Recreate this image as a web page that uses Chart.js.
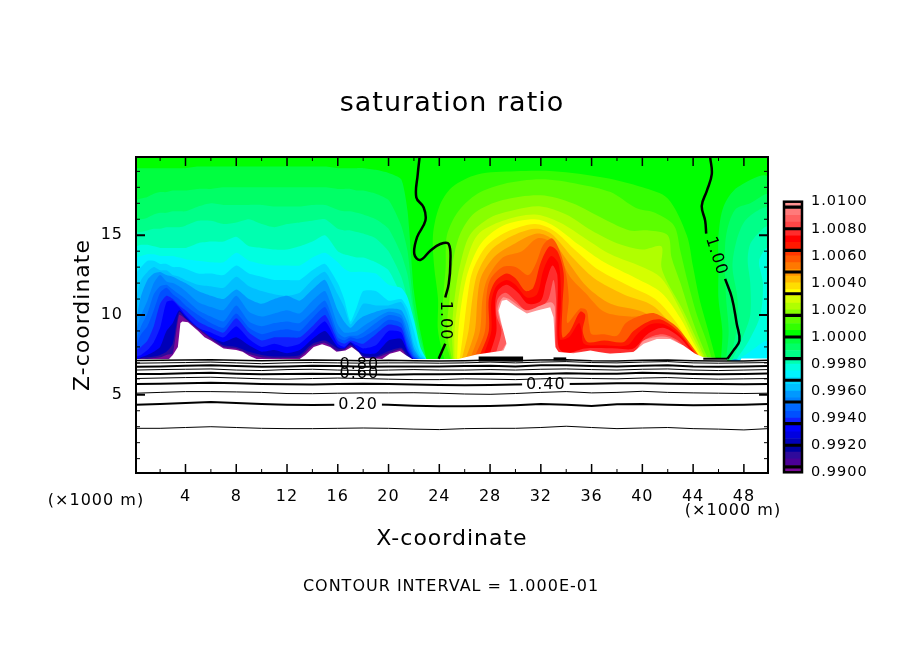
<!DOCTYPE html>
<html>
<head>
<meta charset="utf-8">
<title>saturation ratio</title>
<script src="https://cdn.jsdelivr.net/npm/chart.js@4"></script>
<style>
  html, body { margin: 0; background: #fff; }
  #wrap { position: relative; width: 904px; height: 654px; overflow: hidden; }
  #field { position: absolute; left: 0; top: 0; }
  #bar { position: absolute; left: 770px; top: 192px; }
</style>
</head>
<body>
<div id="wrap">
  <canvas id="field" width="904" height="654"></canvas>
  <canvas id="bar" width="134" height="290"></canvas>
</div>
<script>
// colour scale, one colour for each 0.0005 band from 0.9900 upward
const bandStart = 0.99;
const bandStep = 0.0005;
const bandColors = ['#7a0a96', '#4b0096', '#2f0a9b', '#0000a0', '#0000b8', '#0000e0', '#0000ff', '#1020ff', '#0050ff', '#0068ff',
  '#0080ff', '#0098ff', '#00c0ff', '#00d8ff', '#00f4ff', '#00ffe0', '#00ffb0', '#00ff88', '#00ff66', '#00ff40',
  '#00ff00', '#33ff00', '#5cff00', '#88ff00', '#b0ff00', '#d4ff00', '#ffff00', '#ffdd00', '#ffb800', '#ff9400',
  '#ff7800', '#ff5800', '#ff3800', '#ff1800', '#ff0000', '#ff2c2c', '#ff4646', '#ff6060', '#ff7a7a', '#ff9494'];
const barSeparators = [0.9904, 0.992, 0.9936, 0.9952, 0.9968, 0.9984, 1.0, 1.0016, 1.0032, 1.0048, 1.0064, 1.008, 1.0096];
const barTicks = [0.99, 0.992, 0.994, 0.996, 0.998, 1.0, 1.002, 1.004, 1.006, 1.008, 1.01];

const xTicks = [4, 8, 12, 16, 20, 24, 28, 32, 36, 40, 44, 48];
const xMinor = [2, 6, 10, 14, 18, 22, 26, 30, 34, 38, 42, 46];
const zTicks = [5, 10, 15];
const zMinor = [1, 2, 3, 4, 6, 7, 8, 9, 11, 12, 13, 14, 16, 17, 18, 19];

// dry side, left half: top edge of each band (km) at the coldX positions
const coldX = [0.1, 0.5, 1, 1.5, 2, 2.5, 3, 3.5, 4, 5, 6, 7, 8, 9, 10, 11, 12, 13, 14, 15, 16, 16.5, 17, 17.5, 18, 19, 20, 21, 21.5, 22, 22.5, 23];
const c9995 = [19.2,19.2,19.2,19.2,19.2,19.2,19.2,19.2,19.2,19.3,19.3,19.3,19.3,19.3,19.3,19.3,19.3,19.3,19.3,19.3,19.2,19.2,19.2,19.2,19.2,19.1,18.9,18.5,16.5,11.5,9,7.2];
const c9990 = [17.2,17.3,17.4,17.6,17.7,17.7,17.8,17.8,17.8,17.9,17.9,18,18,18,18,18,18,18,18,18,17.9,17.9,17.9,17.8,17.8,17.6,17.2,15.6,14,10.5,8.5,7.2];
const c9985 = [16,16,16.1,16.3,16.4,16.4,16.5,16.5,16.5,16.8,17,16.9,16.9,16.9,16.9,16.8,16.8,16.8,16.9,16.9,16.6,16.5,16.5,16.4,16.3,16,15.4,13.8,12.5,10,8,7.2];
const c9980 = [15.2,15.2,15.3,15.4,15.4,15.5,15.5,15.5,15.6,15.9,15.9,15.7,15.8,16,15.7,15.5,15.7,15.8,15.9,16,15.4,15.3,15.3,15.2,15.1,14.8,14,12.4,11,9.2,7.9,7.2];
const c9975 = [14.3,14.4,14.4,14.3,14.2,14.2,14.2,14.2,14.2,14.5,14.6,14.6,14.9,14.3,14.2,14.1,14.1,14.3,14.6,15,14,13.8,13.7,13.6,13.6,13.3,12.8,11.2,10,8.6,7.6,7.2];
const c9970 = [13.6,13.7,13.8,13.8,13.7,13.7,13.7,13.6,13.5,13.4,13.3,13.3,13.9,13.4,13.2,13.1,13.1,13.1,13.6,13.9,13.3,12.9,12.7,12.7,12.7,12.6,11.9,11.7,11.1,9.7,8,7.2];
const c9965 = [12.6,13,13.4,13.4,13.2,13.2,13,13,12.9,12.6,12.6,12.5,13.1,12.6,12.4,12.2,12.2,12.2,12.8,13.2,12,11,9.6,10.5,11.5,11.5,10.9,11,10.4,9,7.6,7.2];
const c9960 = [11.1,12.2,12.7,13,12.8,12.8,12.5,12.4,12.2,11.9,11.8,11.7,12.4,11.8,11.5,11.3,11.2,11.4,12.2,12.7,11.3,10.5,9.4,10,10.7,10.6,10.6,10.8,10,8.2,7.4,7.2];
const c9955 = [9.65,11.2,12.2,12.6,12.7,12.5,12.4,12.2,12,11.5,11.2,11,11.6,11,10.7,11,11.2,10.9,11.6,12.2,10.3,9.6,9.2,9.6,9.9,10.2,10.4,10.3,9.5,7.9,7.3,7.2];
const c9950 = [9,10,10.9,12,12.5,12.1,12,11.8,11.5,10.8,10.5,10.3,11.2,10.2,9.9,10.1,10.3,10.1,10.9,11.5,9.4,8.9,8.9,9,9.3,9.8,10.2,10,9,7.7,7.2,7.2];
const c9945 = [8.4,9.3,10.1,11.3,11.8,11.9,11.6,11.3,11,10.3,9.9,9.6,10.6,9.6,9.3,9.5,9.6,9.5,10.2,10.9,8.9,8.6,8.7,8.7,8.9,9.5,10,9.8,8.6,7.5,7.2,7.2];
const c9940 = [8.1,8.8,9.3,10.3,11.4,11.7,11.3,11,10.6,10,9.5,9.2,10.1,9.2,8.8,9,9.1,9,9.8,10.5,8.6,8.4,8.6,8.5,8.6,9.1,9.7,9.5,8.3,7.4,7.2,7.2];
const c9935 = [7.8,8,8.4,9.3,10.7,11.2,11,10.6,10.3,9.6,9.2,8.9,9.8,8.9,8.4,8.6,8.6,8.6,9.3,10,8.4,8.2,8.4,8.3,8.2,8.8,9.4,9.2,8,7.3,7.2,7.2];
const c9930 = [7.4,7.5,7.8,8.3,9.2,10.8,10.9,10.5,10,9.2,8.9,8.6,9.3,8.5,8,8.2,8,8.2,8.9,9.6,8.2,8,8.3,8.1,7.9,8.1,9,8.9,7.8,7.2,7.2,7.2];
const c9920 = [7.2,7.35,7.5,7.7,8,9,9.5,10.3,9.9,9.1,8.6,8.3,8.6,8.1,7.7,7.8,7.6,7.8,8.5,9,8,7.9,8.3,7.9,7.6,7.6,8.4,8.5,7.7,7.2,7.2,7.2];
const c9910 = [7.2,7.3,7.35,7.4,7.5,7.7,8.2,10.2,9.8,9.2,8.6,8.1,8,7.7,7.5,7.4,7.4,7.5,8.2,8.4,7.9,7.9,8.15,7.85,7.45,7.4,7.75,7.95,7.5,7.2,7.2,7.2];
const c9900 = [7.2,7.25,7.25,7.3,7.35,7.5,7.6,10,9.75,9.1,8.5,8,7.9,7.55,7.35,7.3,7.3,7.35,8.05,8.25,7.75,7.8,8.05,7.75,7.35,7.3,7.6,7.85,7.35,7.2,7.2,7.2];

// dry side, right edge: closed outlines [x, z]
const r9995 = [[46.2,7.2],[46.3,9],[46,11],[46,13],[46,15],[46.4,16.8],[47.5,18],[49.9,18.6],[49.9,7.2]];
const r9990 = [[46.6,7.2],[46.8,9],[46.6,11],[46.5,13],[46.6,15],[47.3,16.6],[48.5,17],[49.9,17.5],[49.9,7.2]];
const r9985 = [[46.9,7.2],[47.4,9],[47.5,11],[47.1,13],[47.4,14.6],[48,15.8],[49,16.5],[49.9,16.7],[49.9,7.2]];
const r9980 = [[47.1,7.2],[47.9,8.6],[48.5,10],[48.5,12],[48.3,13.5],[48.6,14.6],[49.9,15.5],[49.9,7.2]];
const r9975 = [[47.4,7.2],[48.4,8.4],[49.3,10],[49.5,12],[49.2,13.4],[49.9,14.2],[49.9,7.2]];
const r9970 = [[47.3,7.1],[48.3,7.6],[49.9,8.4],[49.9,7.1]];
const r9950 = [[46.8,7.1],[47.3,7.22],[47.9,7.1]];

// moist dome: closed outlines [x, z] for each band
const w10005 = [[24.4,7.2],[23.9,9],[23.9,11],[23.6,13],[23.5,15],[24,16.8],[25,18],[27,18.8],[30,19],[33,19],[37,18.6],[40,18],[42,17.3],[43.5,15],[44,13],[44.5,11],[45.2,9],[45.8,7.2]];
const w10010 = [[24.9,7.2],[24.3,9],[24.3,11],[24.5,13],[24.6,15],[25.5,16.5],[27,17.6],[29,18.2],[32,18.5],[35,18.2],[37.5,17.7],[39.5,16.7],[41,16.4],[42.5,15.6],[43,14],[43.6,12],[44.3,10],[45,8.5],[45.5,7.2]];
const w10015 = [[25,7.2],[24.6,9],[24.8,11],[25,13],[25.6,15],[26.8,16.4],[29,17.2],[32,17.5],[34.5,17],[37,16],[39,15.3],[40.5,15.3],[42,15],[42.3,13.6],[43,12],[43.8,10],[44.5,8.5],[45.2,7.2]];
const w10020 = [[25.1,7.2],[25,9],[25.2,11],[25.6,13],[26.4,15],[28,16.1],[30,16.6],[32,16.8],[34,16.3],[36,15.3],[38,14.5],[40,14.1],[41.5,14.3],[41.5,13],[42,12],[43.2,10.3],[44.2,8.6],[45,7.2]];
const w10025 = [[25.2,7.2],[25.2,9],[25.5,11],[26,13],[27,15],[29,15.9],[31.5,16.3],[33.5,15.8],[35.5,14.8],[37.5,13.8],[40,13],[41.5,12.3],[43,10.3],[44,8.6],[44.9,7.2]];
const w10030 = [[25.4,7.2],[25.5,9],[25.8,11],[26.3,12.8],[27.3,14.5],[29,15.6],[31.5,16],[33,15.6],[35,14.4],[37,13.3],[39.5,12.3],[41.5,11.4],[43,9.8],[44,8.3],[44.8,7.2]];
const w10035 = [[25.6,7.2],[25.9,9],[26.2,11],[26.6,12.7],[27.7,14.3],[29.3,15.2],[31.5,15.7],[33,15.3],[34.8,14],[36.6,12.8],[39,11.8],[41,11],[42.7,9.5],[43.8,8],[44.6,7.2]];
const w10040 = [[25.8,7.3],[26.3,9],[26.6,11],[27,12.6],[28,14],[29.6,14.9],[31.5,15.4],[32.8,15.1],[34.5,13.6],[36.2,12.3],[38.5,11.3],[40.8,10.6],[42.5,9.2],[43.7,7.9],[44.5,7.2]];
const w10045 = [[26.1,7.3],[26.8,9],[27,11],[27.3,12.4],[28.4,13.7],[30,14.5],[31.7,15.1],[32.8,14.8],[34,13.5],[35.6,11.8],[37.5,10.7],[40,10.2],[42,9.2],[43.4,7.9],[44.3,7.2]];
const w10050 = [[26.5,7.4],[27.2,9],[27.4,11],[27.8,12.3],[29,13.6],[30.5,14],[31.7,14.8],[32.7,14.6],[33.6,13.5],[34.3,12.4],[35.5,11.4],[37,10.2],[39,9.9],[41,9.9],[43,8.2],[44,7.2]];
const w10055 = [[26.8,7.4],[27.6,9],[27.7,11],[28,12.2],[29,13],[30,13],[31,12.5],[31.6,13.2],[32.2,14.4],[32.9,14.8],[33.5,14],[34,12.5],[34.2,11],[34.1,9.5],[35.1,10.4],[35.6,10.3],[35.8,9.4],[36,8.8],[37,8.8],[38,8.7],[38.7,9.5],[40,10],[41,10.1],[42.5,9.4],[43.5,8.5],[44.5,7.4]];
const w10065 = [[27.2,7.5],[27.9,9],[27.9,11],[28.4,12.1],[29.3,12.6],[30,12.3],[30.8,11.5],[31.4,11.7],[32,13.3],[32.7,14.3],[33.3,14],[33.8,12.6],[33.7,10.5],[33.7,8.6],[34.3,9],[35.1,10.2],[35.5,10],[35.3,9],[35.7,8.3],[37,8.4],[38.5,8.3],[39.3,9],[40.5,9.6],[41.5,9.7],[42.8,9],[43.9,7.9],[44.4,7.3]];
const w10070 = [[27.5,7.5],[28.1,9],[28.1,10.8],[28.5,11.8],[29.3,12.2],[30,11.9],[30.9,11.1],[31.7,11.3],[32.2,12.8],[32.8,13.7],[33.4,13.2],[33.6,11],[33.5,8.5],[34.2,8.6],[35,9.5],[35.2,9.1],[35.4,8.2],[37,8.1],[38.8,8.1],[39.6,8.8],[40.6,9.4],[41.6,9.45],[42.8,8.85],[43.9,7.8],[44.3,7.3]];
const w10075 = [[28,7.6],[28.5,9],[28.4,10.6],[28.6,11.5],[29.3,11.9],[30.2,11.4],[31,10.7],[32,10.9],[32.4,12],[32.9,13.1],[33.3,12.5],[33.3,10],[33.4,8],[34,7.6],[35.5,7.9],[38,7.9],[39.3,7.9],[40.4,8.8],[41.6,9.2],[42.8,8.7],[43.8,7.8],[44.2,7.3]];
const w10085 = [[28.5,7.7],[28.9,9],[28.5,10],[28.6,11],[29.2,11.4],[30,10.9],[31,10.2],[32,10.5],[32.6,11],[33,12.2],[33.2,11],[33.2,8],[33.6,7.6],[35,7.7],[38,7.6],[39.4,7.7],[40.3,8.5],[41.6,8.8],[42.8,8.4],[43.8,7.6],[44.3,7.3]];
const w10095 = [[28.9,7.7],[29.3,8.4],[28.8,9.6],[28.6,10.4],[29,11.1],[29.5,11],[30.2,10.6],[30.9,10.3],[32,10.6],[32.8,10.8],[33.1,10.5],[33.15,8],[33.5,7.6],[39.3,7.7],[40.1,8.4],[41.6,8.65],[42.5,8.45],[43.5,7.8],[44.2,7.4]];

// everything outside the 0.99 - 1.01 range stays white
const blankArea = [[0.1,7.25],[2.7,7.25],[3,7.5],[3.4,8],[3.6,9.5],[3.75,9.6],[4.2,9.55],[5,9],[5.5,8.6],[6,8.4],[7,7.9],[8,7.8],[8.5,7.7],[9,7.45],[9.6,7.25],[13,7.25],[13.45,7.5],[14.1,8],[14.76,8.16],[15.4,8],[15.9,7.7],[16.6,7.78],[17.1,8],[17.65,7.67],[18,7.3],[19.5,7.25],[20.1,7.57],[20.9,7.74],[21.4,7.47],[21.85,7.25],[25.5,7.25],[26.96,7.53],[29.06,7.78],[29.3,8.2],[28.9,9.45],[28.67,10.28],[28.93,10.9],[29.3,10.95],[30.1,10.49],[30.9,10.1],[31.7,10.28],[32.74,10.49],[33,9.86],[33.13,8],[33.4,7.68],[34.57,7.6],[35.9,7.78],[36.67,7.67],[37.46,7.57],[39.3,7.68],[40.1,8.2],[41.14,8.5],[42.2,8.5],[43.24,8.09],[44.16,7.57],[44.8,7.36],[46.6,7.28],[46.7,7.12],[47.7,7.12],[47.8,7.28],[49.9,7.28],[49.9,0.1],[0.1,0.1]];

// black contour lines, height (km) at the lineX positions
const lineX = [0.1, 2, 4, 6, 8, 10, 12, 14, 16, 18, 20, 22, 24, 26, 28, 30, 32, 34, 36, 38, 40, 42, 44, 46, 48, 49.9];
const line010 = [2.9,2.9,2.95,3,2.95,2.9,2.88,2.88,2.9,2.92,2.9,2.85,2.82,2.88,2.9,2.9,2.95,3.03,2.95,2.88,2.92,2.95,2.88,2.85,2.8,2.88];
const line020 = [4.38,4.42,4.48,4.55,4.48,4.42,4.38,4.36,4.38,4.4,4.38,4.32,4.28,4.28,4.3,4.35,4.42,4.38,4.3,4.4,4.42,4.38,4.35,4.36,4.38,4.42];
const line030 = [5.1,5.15,5.2,5.2,5.18,5.15,5.08,5.07,5.1,5.12,5.12,5.13,5.1,5.05,5.03,5.08,5.15,5.2,5.12,5.15,5.22,5.15,5.12,5.1,5.08,5.1];
const line040 = [5.68,5.7,5.72,5.75,5.72,5.68,5.66,5.65,5.68,5.7,5.68,5.65,5.62,5.6,5.62,5.65,5.66,5.68,5.7,5.72,5.72,5.7,5.68,5.68,5.66,5.68];
const line050 = [6.02,6.05,6.08,6.1,6.05,6,5.98,6.02,6.05,6.02,5.98,5.95,5.95,6,5.98,5.95,6,6.05,6.02,6,6.05,6.08,6.02,5.98,6,6.02];
const line060 = [6.3,6.3,6.35,6.38,6.32,6.28,6.3,6.32,6.3,6.28,6.25,6.28,6.28,6.3,6.32,6.28,6.3,6.35,6.32,6.32,6.38,6.35,6.3,6.28,6.3,6.33];
const line070 = [6.55,6.58,6.6,6.62,6.55,6.52,6.58,6.6,6.55,6.52,6.55,6.58,6.55,6.55,6.58,6.55,6.6,6.62,6.58,6.55,6.6,6.62,6.55,6.52,6.55,6.58];
const line080 = [6.75,6.78,6.82,6.85,6.8,6.75,6.78,6.82,6.8,6.75,6.78,6.78,6.78,6.8,6.82,6.78,6.85,6.85,6.8,6.78,6.82,6.85,6.78,6.75,6.78,6.8];
const line090 = [6.98,7,7.02,7.05,7,6.95,7,7.02,7,6.98,7,7,6.98,7,7.05,7,7.05,7.08,7.02,7,7.05,7.08,7,6.98,7,7.02];
const line095 = [7.15,7.16,7.18,7.2,7.16,7.14,7.16,7.18,7.16,7.14,7.16,7.14,7.12,7.14,7.18,7.14,7.18,7.2,7.14,7.12,7.16,7.18,7.14,7.12,7.12,7.16];

const unityLeftUpper = [[22.45,19.9],[22.3,18.82],[22.19,17.36],[22.77,16.74],[22.9,15.9],[22.24,14.86],[22.03,13.82],[22.5,13.45],[23.29,14.03],[24.08,14.45],[24.74,14.45],[24.87,13.2],[24.74,11.95],[24.47,11.1]];
const unityLeftLower = [[24.47,8.2],[23.95,7.26]];
const unityRightUpper = [[45.34,19.9],[45.47,18.82],[45.08,17.78],[44.68,16.84],[44.95,15.9],[45.03,15.1]];
const unityRightLower = [[46.52,12.26],[47.05,11.1],[47.44,9.44],[47.65,8.4],[47.18,7.78],[46.7,7.26]];
const groundBarA = [[27.1,7.25],[30.6,7.25]];
const groundBarB = [[33,7.25],[34,7.25]];
const groundBarC = [[44.8,7.26],[46.7,7.26]];

function bandColor(level) {
    return bandColors[Math.round((level - bandStart) / bandStep)];
}

function zipLine(xs, zs) {
    return xs.map(function (x, i) { return [x, zs[i]]; });
}

function areaUnder(zs, level) {
    return { data: zipLine(coldX, zs), showLine: true, fill: 'start', backgroundColor: bandColor(level), borderWidth: 0, pointRadius: 0, tension: 0.2 };
}

function outline(points, level) {
    return { data: points, showLine: true, fill: 'shape', backgroundColor: bandColor(level), borderWidth: 0, pointRadius: 0, tension: 0.3 };
}

function contour(points, width, tension) {
    return { data: points, showLine: true, fill: false, borderColor: '#000', borderWidth: width, pointRadius: 0, tension: tension || 0 };
}

const fieldLayers = [
    { data: [[0.1, 19.9], [49.9, 19.9], [49.9, 7], [0.1, 7]], showLine: true, fill: 'shape', backgroundColor: bandColor(1.0), borderWidth: 0, pointRadius: 0 },
    areaUnder(c9995, 0.9995), areaUnder(c9990, 0.999), areaUnder(c9985, 0.9985), areaUnder(c9980, 0.998),
    areaUnder(c9975, 0.9975), areaUnder(c9970, 0.997), areaUnder(c9965, 0.9965), areaUnder(c9960, 0.996),
    areaUnder(c9955, 0.9955), areaUnder(c9950, 0.995), areaUnder(c9945, 0.9945), areaUnder(c9940, 0.994),
    areaUnder(c9935, 0.9935), areaUnder(c9930, 0.993), areaUnder(c9920, 0.992), areaUnder(c9910, 0.991), areaUnder(c9900, 0.99),
    outline(r9995, 0.9995), outline(r9990, 0.999), outline(r9985, 0.9985), outline(r9980, 0.998),
    outline(r9975, 0.9975), outline(r9970, 0.997), outline(r9950, 0.995),
    outline(w10005, 1.0005), outline(w10010, 1.001), outline(w10015, 1.0015), outline(w10020, 1.002),
    outline(w10025, 1.0025), outline(w10030, 1.003), outline(w10035, 1.0035), outline(w10040, 1.004),
    outline(w10045, 1.0045), outline(w10050, 1.005), outline(w10055, 1.0055), outline(w10065, 1.0065),
    outline(w10070, 1.007), outline(w10075, 1.0075), outline(w10085, 1.0085), outline(w10095, 1.0095),
    { data: blankArea, showLine: true, fill: 'shape', backgroundColor: '#fff', borderWidth: 0, pointRadius: 0, tension: 0 },
    contour(zipLine(lineX, line010), 1), contour(zipLine(lineX, line020), 2), contour(zipLine(lineX, line030), 1),
    contour(zipLine(lineX, line040), 2), contour(zipLine(lineX, line050), 1), contour(zipLine(lineX, line060), 2),
    contour(zipLine(lineX, line070), 1), contour(zipLine(lineX, line080), 2), contour(zipLine(lineX, line090), 1),
    contour(zipLine(lineX, line095), 1.5),
    contour(groundBarA, 5), contour(groundBarB, 3), contour(groundBarC, 2),
    contour(unityLeftUpper, 2.5, 0.4), contour(unityLeftLower, 2.5, 0.4), contour(unityRightUpper, 2.5, 0.4), contour(unityRightLower, 2.5, 0.4)
];

// first dataset has to end up at the bottom of the pile
fieldLayers.forEach(function (layer, i) { layer.order = fieldLayers.length - i; });

const contourLabels = [
    { text: '0.20', x: 17.6, z: 4.38, angle: 0 },
    { text: '0.40', x: 32.4, z: 5.62, angle: 0 },
    { text: '0.60', x: 17.7, z: 6.3, angle: 0 },
    { text: '0.80', x: 17.7, z: 6.85, angle: 0 },
    { text: '1.00', x: 24.5, z: 9.65, angle: 90 },
    { text: '1.00', x: 45.8, z: 13.7, angle: 72 }
];

const pageLabels = [
    { text: '(\u00d71000 m)', left: 96, top: 501 },
    { text: '(\u00d71000 m)', left: 733, top: 511 },
    { text: 'CONTOUR INTERVAL = 1.000E-01', left: 451, top: 587 }
];

const FONT = '"DejaVu Sans"';

// wide lettering as in the stroke font of the original
const spacingPlugin = {
    id: 'spacing',
    beforeDraw: function (chart) { chart.ctx.letterSpacing = '1px'; }
};

const fieldDecor = {
    id: 'fieldDecor',
    afterDatasetsDraw: function (chart) {
        const ctx = chart.ctx;
        const xs = chart.scales.x;
        const zs = chart.scales.y;
        const area = chart.chartArea;
        ctx.save();
        ctx.font = '16px ' + FONT;
        ctx.textAlign = 'center';
        ctx.textBaseline = 'middle';
        contourLabels.forEach(function (l) {
            const w = ctx.measureText(l.text).width + 8;
            ctx.save();
            ctx.translate(xs.getPixelForValue(l.x), zs.getPixelForValue(l.z));
            ctx.rotate(l.angle * Math.PI / 180);
            if (l.angle === 0 && l.z < 6) {
                ctx.fillStyle = '#fff';
                ctx.fillRect(-w / 2, -4, w, 8);
            }
            ctx.fillStyle = '#000';
            ctx.fillText(l.text, 0, 0);
            ctx.restore();
        });

        // inward ticks on all four sides
        ctx.strokeStyle = '#000';
        function xTick(v, len, width) {
            const px = xs.getPixelForValue(v);
            ctx.lineWidth = width;
            ctx.beginPath();
            ctx.moveTo(px, area.top); ctx.lineTo(px, area.top + len);
            ctx.moveTo(px, area.bottom); ctx.lineTo(px, area.bottom - len);
            ctx.stroke();
        }
        function zTick(v, len, width) {
            const py = zs.getPixelForValue(v);
            ctx.lineWidth = width;
            ctx.beginPath();
            ctx.moveTo(area.left, py); ctx.lineTo(area.left + len, py);
            ctx.moveTo(area.right, py); ctx.lineTo(area.right - len, py);
            ctx.stroke();
        }
        xTicks.forEach(function (v) { xTick(v, 9, 1.5); });
        xMinor.forEach(function (v) { xTick(v, 4, 1); });
        zTicks.forEach(function (v) { zTick(v, 9, 2); });
        zMinor.forEach(function (v) { zTick(v, 4, 1); });
        ctx.lineWidth = 2;
        ctx.strokeRect(area.left, area.top, area.right - area.left, area.bottom - area.top);

        ctx.font = '16px ' + FONT;
        ctx.fillStyle = '#000';
        pageLabels.forEach(function (l) { ctx.fillText(l.text, l.left, l.top); });
        ctx.restore();
    }
};

new Chart(document.getElementById('field'), {
    type: 'scatter',
    data: { datasets: fieldLayers },
    plugins: [spacingPlugin, fieldDecor],
    options: {
        responsive: false,
        animation: false,
        layout: { padding: { left: 70, right: 136, top: 88, bottom: 102 } },
        plugins: {
            legend: { display: false },
            tooltip: { enabled: false },
            title: {
                display: true,
                text: 'saturation ratio',
                fullSize: false,
                color: '#000',
                font: { family: FONT, size: 27, weight: 'normal' },
                padding: { top: 0, bottom: 36.6 }
            }
        },
        scales: {
            x: {
                type: 'linear',
                min: 0.1,
                max: 49.9,
                grid: { display: false },
                border: { display: false },
                afterFit: function (axis) { axis.height = 79; },
                afterBuildTicks: function (axis) { axis.ticks = xTicks.map(function (v) { return { value: v }; }); },
                ticks: { color: '#000', font: { family: FONT, size: 16 }, padding: 6, maxRotation: 0, autoSkip: false },
                title: { display: true, text: 'X-coordinate', color: '#000', font: { family: FONT, size: 22 }, padding: 0 }
            },
            y: {
                type: 'linear',
                min: 0.1,
                max: 19.9,
                grid: { display: false },
                border: { display: false },
                afterFit: function (axis) { axis.width = 66; },
                afterBuildTicks: function (axis) { axis.ticks = zTicks.map(function (v) { return { value: v }; }); },
                ticks: { color: '#000', font: { family: FONT, size: 16 }, padding: 5, autoSkip: false },
                title: { display: true, text: 'Z-coordinate', color: '#000', font: { family: FONT, size: 22 }, padding: 0 }
            }
        }
    }
});

// colour bar
const barSets = bandColors.map(function (color, i) {
    return { data: [[bandStart + i * bandStep, bandStart + (i + 1) * bandStep]], backgroundColor: color, grouped: false, barPercentage: 1, categoryPercentage: 1, order: 2 };
});
barSeparators.forEach(function (v) {
    barSets.push({ data: [[v - 0.00009, v + 0.00009]], backgroundColor: '#000', grouped: false, barPercentage: 1, categoryPercentage: 1, order: 1 });
});

const barFrame = {
    id: 'barFrame',
    afterDatasetsDraw: function (chart) {
        const a = chart.chartArea;
        chart.ctx.save();
        chart.ctx.strokeStyle = '#000';
        chart.ctx.lineWidth = 2.5;
        chart.ctx.strokeRect(a.left, a.top, a.right - a.left, a.bottom - a.top);
        chart.ctx.restore();
    }
};

new Chart(document.getElementById('bar'), {
    type: 'bar',
    data: { labels: ['ratio'], datasets: barSets },
    plugins: [spacingPlugin, barFrame],
    options: {
        responsive: false,
        animation: false,
        layout: { padding: { left: 14, right: 0, top: 3, bottom: 3 } },
        plugins: { legend: { display: false }, tooltip: { enabled: false } },
        scales: {
            x: { display: false },
            y: {
                position: 'right',
                min: 0.99,
                max: 1.01,
                grid: { display: false },
                border: { display: false },
                afterFit: function (axis) { axis.width = 102; },
                afterBuildTicks: function (axis) { axis.ticks = barTicks.map(function (v) { return { value: v }; }); },
                ticks: {
                    color: '#000',
                    font: { family: FONT, size: 14.5 },
                    padding: 1,
                    autoSkip: false,
                    callback: function (v) { return v.toFixed(4); }
                }
            }
        }
    }
});
</script>
</body>
</html>
